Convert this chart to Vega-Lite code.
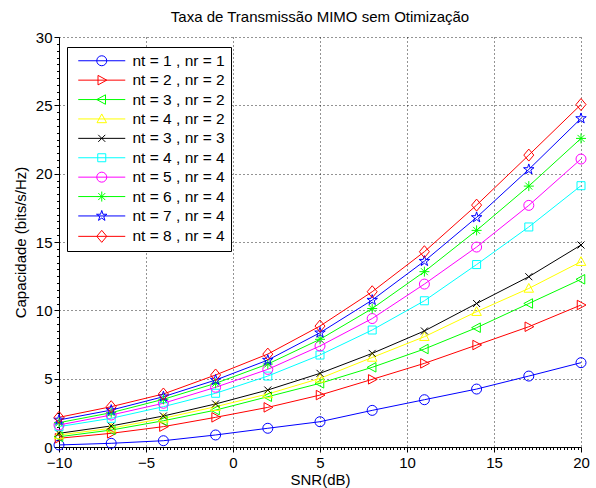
{
"$schema": "https://vega.github.io/schema/vega-lite/v6.json",
"width": 522, "height": 410,
"autosize": {"type": "none"},
"padding": {"left": 59, "top": 37, "right": 15, "bottom": 41},
"background": "white",
"title": {"text": "Taxa de Transmissão MIMO sem Otimização", "fontSize": 15, "font": "Liberation Sans", "fontWeight": "normal", "offset": 5, "color": "black"},
"config": {"view": {"stroke": null}, "font": "Liberation Sans"},
"datasets": {
"cap": [
{"s":"nt = 1 , nr = 1","snr":-10,"cap":0.15},{"s":"nt = 1 , nr = 1","snr":-7,"cap":0.27},{"s":"nt = 1 , nr = 1","snr":-4,"cap":0.46},{"s":"nt = 1 , nr = 1","snr":-1,"cap":0.88},{"s":"nt = 1 , nr = 1","snr":2,"cap":1.37},{"s":"nt = 1 , nr = 1","snr":5,"cap":1.85},{"s":"nt = 1 , nr = 1","snr":8,"cap":2.68},{"s":"nt = 1 , nr = 1","snr":11,"cap":3.46},{"s":"nt = 1 , nr = 1","snr":14,"cap":4.24},{"s":"nt = 1 , nr = 1","snr":17,"cap":5.19},{"s":"nt = 1 , nr = 1","snr":20,"cap":6.17},
{"s":"nt = 2 , nr = 2","snr":-10,"cap":0.64},{"s":"nt = 2 , nr = 2","snr":-7,"cap":1.0},{"s":"nt = 2 , nr = 2","snr":-4,"cap":1.49},{"s":"nt = 2 , nr = 2","snr":-1,"cap":2.17},{"s":"nt = 2 , nr = 2","snr":2,"cap":2.9},{"s":"nt = 2 , nr = 2","snr":5,"cap":3.8},{"s":"nt = 2 , nr = 2","snr":8,"cap":4.95},{"s":"nt = 2 , nr = 2","snr":11,"cap":6.12},{"s":"nt = 2 , nr = 2","snr":14,"cap":7.46},{"s":"nt = 2 , nr = 2","snr":17,"cap":8.8},{"s":"nt = 2 , nr = 2","snr":20,"cap":10.39},
{"s":"nt = 3 , nr = 2","snr":-10,"cap":0.75},{"s":"nt = 3 , nr = 2","snr":-7,"cap":1.24},{"s":"nt = 3 , nr = 2","snr":-4,"cap":1.92},{"s":"nt = 3 , nr = 2","snr":-1,"cap":2.7},{"s":"nt = 3 , nr = 2","snr":2,"cap":3.68},{"s":"nt = 3 , nr = 2","snr":5,"cap":4.66},{"s":"nt = 3 , nr = 2","snr":8,"cap":5.83},{"s":"nt = 3 , nr = 2","snr":11,"cap":7.17},{"s":"nt = 3 , nr = 2","snr":14,"cap":8.73},{"s":"nt = 3 , nr = 2","snr":17,"cap":10.5},{"s":"nt = 3 , nr = 2","snr":20,"cap":12.27},
{"s":"nt = 4 , nr = 2","snr":-10,"cap":0.88},{"s":"nt = 4 , nr = 2","snr":-7,"cap":1.37},{"s":"nt = 4 , nr = 2","snr":-4,"cap":2.1},{"s":"nt = 4 , nr = 2","snr":-1,"cap":2.95},{"s":"nt = 4 , nr = 2","snr":2,"cap":3.88},{"s":"nt = 4 , nr = 2","snr":5,"cap":5.02},{"s":"nt = 4 , nr = 2","snr":8,"cap":6.55},{"s":"nt = 4 , nr = 2","snr":11,"cap":8.07},{"s":"nt = 4 , nr = 2","snr":14,"cap":9.9},{"s":"nt = 4 , nr = 2","snr":17,"cap":11.6},{"s":"nt = 4 , nr = 2","snr":20,"cap":13.56},
{"s":"nt = 3 , nr = 3","snr":-10,"cap":1.0},{"s":"nt = 3 , nr = 3","snr":-7,"cap":1.54},{"s":"nt = 3 , nr = 3","snr":-4,"cap":2.27},{"s":"nt = 3 , nr = 3","snr":-1,"cap":3.15},{"s":"nt = 3 , nr = 3","snr":2,"cap":4.17},{"s":"nt = 3 , nr = 3","snr":5,"cap":5.39},{"s":"nt = 3 , nr = 3","snr":8,"cap":6.85},{"s":"nt = 3 , nr = 3","snr":11,"cap":8.49},{"s":"nt = 3 , nr = 3","snr":14,"cap":10.5},{"s":"nt = 3 , nr = 3","snr":17,"cap":12.46},{"s":"nt = 3 , nr = 3","snr":20,"cap":14.78},
{"s":"nt = 4 , nr = 4","snr":-10,"cap":1.49},{"s":"nt = 4 , nr = 4","snr":-7,"cap":2.1},{"s":"nt = 4 , nr = 4","snr":-4,"cap":2.95},{"s":"nt = 4 , nr = 4","snr":-1,"cap":3.93},{"s":"nt = 4 , nr = 4","snr":2,"cap":5.19},{"s":"nt = 4 , nr = 4","snr":5,"cap":6.73},{"s":"nt = 4 , nr = 4","snr":8,"cap":8.56},{"s":"nt = 4 , nr = 4","snr":11,"cap":10.7},{"s":"nt = 4 , nr = 4","snr":14,"cap":13.35},{"s":"nt = 4 , nr = 4","snr":17,"cap":16.1},{"s":"nt = 4 , nr = 4","snr":20,"cap":19.12},
{"s":"nt = 5 , nr = 4","snr":-10,"cap":1.61},{"s":"nt = 5 , nr = 4","snr":-7,"cap":2.34},{"s":"nt = 5 , nr = 4","snr":-4,"cap":3.2},{"s":"nt = 5 , nr = 4","snr":-1,"cap":4.37},{"s":"nt = 5 , nr = 4","snr":2,"cap":5.68},{"s":"nt = 5 , nr = 4","snr":5,"cap":7.39},{"s":"nt = 5 , nr = 4","snr":8,"cap":9.4},{"s":"nt = 5 , nr = 4","snr":11,"cap":11.92},{"s":"nt = 5 , nr = 4","snr":14,"cap":14.63},{"s":"nt = 5 , nr = 4","snr":17,"cap":17.68},{"s":"nt = 5 , nr = 4","snr":20,"cap":21.07},
{"s":"nt = 6 , nr = 4","snr":-10,"cap":1.78},{"s":"nt = 6 , nr = 4","snr":-7,"cap":2.51},{"s":"nt = 6 , nr = 4","snr":-4,"cap":3.49},{"s":"nt = 6 , nr = 4","snr":-1,"cap":4.66},{"s":"nt = 6 , nr = 4","snr":2,"cap":6.07},{"s":"nt = 6 , nr = 4","snr":5,"cap":7.88},{"s":"nt = 6 , nr = 4","snr":8,"cap":10.13},{"s":"nt = 6 , nr = 4","snr":11,"cap":12.83},{"s":"nt = 6 , nr = 4","snr":14,"cap":15.85},{"s":"nt = 6 , nr = 4","snr":17,"cap":19.09},{"s":"nt = 6 , nr = 4","snr":20,"cap":22.58},
{"s":"nt = 7 , nr = 4","snr":-10,"cap":1.98},{"s":"nt = 7 , nr = 4","snr":-7,"cap":2.7},{"s":"nt = 7 , nr = 4","snr":-4,"cap":3.68},{"s":"nt = 7 , nr = 4","snr":-1,"cap":4.9},{"s":"nt = 7 , nr = 4","snr":2,"cap":6.36},{"s":"nt = 7 , nr = 4","snr":5,"cap":8.36},{"s":"nt = 7 , nr = 4","snr":8,"cap":10.75},{"s":"nt = 7 , nr = 4","snr":11,"cap":13.6},{"s":"nt = 7 , nr = 4","snr":14,"cap":16.8},{"s":"nt = 7 , nr = 4","snr":17,"cap":20.31},{"s":"nt = 7 , nr = 4","snr":20,"cap":24.04},
{"s":"nt = 8 , nr = 4","snr":-10,"cap":2.17},{"s":"nt = 8 , nr = 4","snr":-7,"cap":2.95},{"s":"nt = 8 , nr = 4","snr":-4,"cap":3.88},{"s":"nt = 8 , nr = 4","snr":-1,"cap":5.27},{"s":"nt = 8 , nr = 4","snr":2,"cap":6.8},{"s":"nt = 8 , nr = 4","snr":5,"cap":8.85},{"s":"nt = 8 , nr = 4","snr":8,"cap":11.36},{"s":"nt = 8 , nr = 4","snr":11,"cap":14.29},{"s":"nt = 8 , nr = 4","snr":14,"cap":17.7},{"s":"nt = 8 , nr = 4","snr":17,"cap":21.36},{"s":"nt = 8 , nr = 4","snr":20,"cap":25.06}
]
},
"data": {"name": "cap"},
"encoding": {
  "x": {"field": "snr", "type": "quantitative", "scale": {"domain": [-10, 20], "nice": false, "zero": false},
    "axis": {"title": "SNR(dB)", "titleFontSize": 15, "titleFontWeight": "normal", "titleColor": "black", "titlePadding": 2, "titleFont": "Liberation Sans",
      "labelFontSize": 15, "labelColor": "black", "labelFont": "Liberation Sans", "tickCount": 150,
      "labelExpr": "datum.value % 5 == 0 ? format(datum.value, 'd') : ''", "labelOverlap": false, "labelFlush": false, "labelPadding": 3,
      "tickSize": {"condition": {"test": "datum.value % 5 == 0", "value": 5}, "value": 2.5}, "tickColor": "black", "tickWidth": 1,
      "domainColor": "black", "domainWidth": 1, "grid": true, "gridColor": "black", "gridDash": [1, 3], "gridWidth": 1,
      "gridOpacity": {"condition": {"test": "datum.value % 5 == 0", "value": 0.85}, "value": 0}}},
  "y": {"field": "cap", "type": "quantitative", "scale": {"domain": [0, 30], "nice": false},
    "axis": {"title": "Capacidade (bits/s/Hz)", "titleFontSize": 15, "titleFontWeight": "normal", "titleColor": "black", "titlePadding": 7, "titleFont": "Liberation Sans",
      "labelFontSize": 15, "labelColor": "black", "labelFont": "Liberation Sans", "tickCount": 60,
      "labelExpr": "datum.value % 5 == 0 ? format(datum.value, 'd') : ''", "labelOverlap": false, "labelFlush": false, "labelPadding": 2,
      "tickSize": {"condition": {"test": "datum.value % 5 == 0", "value": 5}, "value": 2.5}, "tickColor": "black", "tickWidth": 1,
      "domainColor": "black", "domainWidth": 1, "grid": true, "gridColor": "black", "gridDash": [1, 3], "gridWidth": 1,
      "gridOpacity": {"condition": {"test": "datum.value % 5 == 0", "value": 0.85}, "value": 0}}},
  "color": {"field": "s", "type": "nominal",
    "scale": {"domain": ["nt = 1 , nr = 1","nt = 2 , nr = 2","nt = 3 , nr = 2","nt = 4 , nr = 2","nt = 3 , nr = 3","nt = 4 , nr = 4","nt = 5 , nr = 4","nt = 6 , nr = 4","nt = 7 , nr = 4","nt = 8 , nr = 4"],
      "range": ["#0000ff","#ff0000","#00ff00","#ffff00","#000000","#00ffff","#ff00ff","#00ff00","#0000ff","#ff0000"]},
    "legend": {"orient": "none", "legendX": 8, "legendY": 10, "title": null, "padding": 6, "strokeColor": "black", "fillColor": "white",
      "labelFontSize": 15.5, "labelFont": "Liberation Sans", "labelColor": "black", "symbolOffset": 21, "labelOffset": 23, "rowPadding": 2.4,
      "symbolSize": 100, "symbolStrokeWidth": 1, "symbolType": "circle",
      "encode": {"symbols": {"update": {
        "shape": {"signal": "['M-4.7,0H4.7M1,0A1,1,0,1,1,-1,0A1,1,0,1,1,1,0Z','M-4.7,0H4.7M-0.75,-0.95L1,0L-0.75,0.95Z','M-4.7,0H4.7M0.75,-0.95L-1,0L0.75,0.95Z','M-4.7,0H4.7M-0.95,0.75L0,-1L0.95,0.75Z','M-4.7,0H4.7M-0.7,-0.7L0.7,0.7M-0.7,0.7L0.7,-0.7','M-4.7,0H4.7M-0.8,-0.8H0.8V0.8H-0.8Z','M-4.7,0H4.7M1,0A1,1,0,1,1,-1,0A1,1,0,1,1,1,0Z','M-4.7,0H4.7M-1,0H1M0,-1V1M-0.7,-0.7L0.7,0.7M-0.7,0.7L0.7,-0.7','M-4.7,0H4.7M0,-1.1L0.247,-0.34L1.046,-0.34L0.4,0.13L0.647,0.89L0,0.42L-0.647,0.89L-0.4,0.13L-1.046,-0.34L-0.247,-0.34Z','M-4.7,0H4.7M0,-1.2L1,0L0,1.2L-1,0Z'][indexof(['nt = 1 , nr = 1','nt = 2 , nr = 2','nt = 3 , nr = 2','nt = 4 , nr = 2','nt = 3 , nr = 3','nt = 4 , nr = 4','nt = 5 , nr = 4','nt = 6 , nr = 4','nt = 7 , nr = 4','nt = 8 , nr = 4'], datum.value)]"},
        "fill": {"value": "transparent"},
        "strokeWidth": {"value": 1},
        "size": {"value": 100},
        "opacity": {"value": 1}}}}}}
},
"layer": [
  {"mark": {"type": "line", "strokeWidth": 1, "clip": false}},
  {"mark": {"type": "point", "filled": false, "size": 100, "strokeWidth": 1, "opacity": 1, "clip": false},
   "encoding": {"shape": {"condition": [
       {"test": "datum.s == 'nt = 1 , nr = 1'", "value": "M1,0A1,1,0,1,1,-1,0A1,1,0,1,1,1,0Z"},
       {"test": "datum.s == 'nt = 2 , nr = 2'", "value": "M-0.75,-0.95L1,0L-0.75,0.95Z"},
       {"test": "datum.s == 'nt = 3 , nr = 2'", "value": "M0.75,-0.95L-1,0L0.75,0.95Z"},
       {"test": "datum.s == 'nt = 4 , nr = 2'", "value": "M-0.95,0.75L0,-1L0.95,0.75Z"},
       {"test": "datum.s == 'nt = 3 , nr = 3'", "value": "M-0.7,-0.7L0.7,0.7M-0.7,0.7L0.7,-0.7"},
       {"test": "datum.s == 'nt = 4 , nr = 4'", "value": "M-0.8,-0.8H0.8V0.8H-0.8Z"},
       {"test": "datum.s == 'nt = 5 , nr = 4'", "value": "M1,0A1,1,0,1,1,-1,0A1,1,0,1,1,1,0Z"},
       {"test": "datum.s == 'nt = 6 , nr = 4'", "value": "M-1,0H1M0,-1V1M-0.7,-0.7L0.7,0.7M-0.7,0.7L0.7,-0.7"},
       {"test": "datum.s == 'nt = 7 , nr = 4'", "value": "M0,-1.1L0.247,-0.34L1.046,-0.34L0.4,0.13L0.647,0.89L0,0.42L-0.647,0.89L-0.4,0.13L-1.046,-0.34L-0.247,-0.34Z"}
     ], "value": "M0,-1.2L1,0L0,1.2L-1,0Z"}}}
]
}
